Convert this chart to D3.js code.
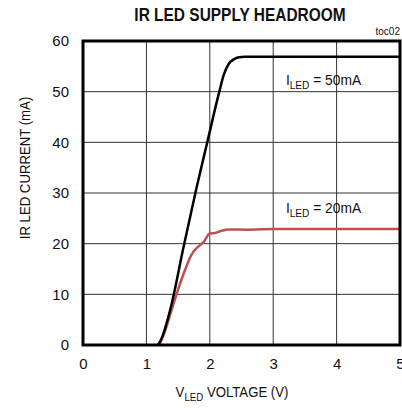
<!DOCTYPE html>
<html>
<head>
<meta charset="utf-8">
<script src="https://cdn.jsdelivr.net/npm/d3@7"></script>
<style>
  body { margin: 0; background: #fff; }
  text { font-family: "Liberation Sans Narrow", "Arial Narrow", "Liberation Sans", sans-serif; }
</style>
</head>
<body>
<div id="chart-container"></div>
<script>
// curve data (V, mA)
const voltage50 = [1.18, 1.22, 1.27, 1.33, 1.40, 1.58, 1.79, 1.96, 2.15, 2.22, 2.30, 2.38, 2.46, 2.55, 3.0, 4.0, 5.0];
const current50 = [0, 0.8, 2.3, 4.8, 8.2, 19, 31, 40, 50, 53.3, 55.5, 56.4, 56.8, 56.9, 56.9, 56.9, 56.9];
const voltage20 = [1.20, 1.24, 1.29, 1.38, 1.48, 1.60, 1.71, 1.79, 1.90, 2.00, 2.08, 2.18, 2.29, 2.60, 3.0, 4.0, 5.0];
const current20 = [0, 1.0, 2.6, 6.2, 10.2, 14.5, 17.8, 19.1, 20.3, 22.0, 22.1, 22.5, 22.8, 22.75, 22.9, 22.9, 22.9];
const xTicks = [0, 1, 2, 3, 4, 5];
const yTicks = [0, 10, 20, 30, 40, 50, 60];

const margin = { top: 41, right: 2, bottom: 63, left: 83 };
const W = 402, H = 408;
const width = W - margin.left - margin.right;
const height = H - margin.top - margin.bottom;

const svg = d3.select("#chart-container")
  .append("svg")
    .attr("width", W)
    .attr("height", H);

const g = svg.append("g")
  .attr("transform", `translate(${margin.left},${margin.top})`);

const x = d3.scaleLinear().domain([0, 5]).range([0, width]);
const y = d3.scaleLinear().domain([0, 60]).range([height, 0]);

// grid
g.selectAll(".vgrid")
  .data(xTicks.slice(1, -1))
  .join("line")
  .attr("x1", d => x(d)).attr("x2", d => x(d))
  .attr("y1", 0).attr("y2", height)
  .attr("stroke", "#333").attr("stroke-width", 1);

g.selectAll(".hgrid")
  .data(yTicks.slice(1, -1))
  .join("line")
  .attr("x1", 0).attr("x2", width)
  .attr("y1", d => y(d)).attr("y2", d => y(d))
  .attr("stroke", "#333").attr("stroke-width", 1);

// tick labels via d3 axes, lines hidden
const xAxis = g.append("g")
  .attr("transform", `translate(0,${height})`)
  .call(d3.axisBottom(x).tickValues(xTicks).tickFormat(d3.format("d")).tickSize(0).tickPadding(13));
xAxis.select(".domain").remove();
xAxis.selectAll(".tick text")
  .style("font-size", "15px").attr("fill", "#111")
  .attr("font-family", "Liberation Sans Narrow, Arial Narrow, sans-serif");

const yAxis = g.append("g")
  .call(d3.axisLeft(y).tickValues(yTicks).tickFormat(d3.format("d")).tickSize(0).tickPadding(14));
yAxis.select(".domain").remove();
yAxis.selectAll(".tick text")
  .style("font-size", "15px").attr("fill", "#111")
  .attr("font-family", "Liberation Sans Narrow, Arial Narrow, sans-serif");

// curves
const line = d3.line()
  .x(d => x(d[0]))
  .y(d => y(d[1]))
  .curve(d3.curveMonotoneX);

g.append("path")
  .datum(voltage20.map((v, i) => [v, current20[i]]))
  .attr("fill", "none")
  .attr("stroke", "#c0504d")
  .attr("stroke-width", 2.5)
  .attr("d", line);

g.append("path")
  .datum(voltage50.map((v, i) => [v, current50[i]]))
  .attr("fill", "none")
  .attr("stroke", "#000")
  .attr("stroke-width", 2.5)
  .attr("d", line);

// frame
g.append("rect")
  .attr("x", 0).attr("y", 0)
  .attr("width", width).attr("height", height)
  .attr("fill", "none")
  .attr("stroke", "#000")
  .attr("stroke-width", 3);

// curve labels
function iledLabel(xv, yv, txt) {
  const t = g.append("text")
    .attr("transform", `translate(${x(xv)},${y(yv)}) scale(0.92,1)`)
    .style("font-size", "15px").attr("fill", "#111");
  t.append("tspan").text("I");
  t.append("tspan").attr("dy", 4).style("font-size", "11px").text("LED");
  t.append("tspan").attr("dy", -4).text(" = " + txt);
}
iledLabel(3.2, 51.4, "50mA");
iledLabel(3.2, 26.0, "20mA");

// title
svg.append("text")
  .attr("transform", "translate(240,21) scale(0.86,1)")
  .attr("text-anchor", "middle")
  .style("font-size", "18px")
  .style("font-weight", "bold")
  .attr("fill", "#111")
  .text("IR LED SUPPLY HEADROOM");

svg.append("text")
  .attr("x", 400).attr("y", 35)
  .attr("text-anchor", "end")
  .style("font-size", "10px")
  .attr("fill", "#111")
  .text("toc02");

// y label
svg.append("text")
  .attr("transform", "translate(30,168) rotate(-90) scale(0.88,1)")
  .attr("text-anchor", "middle")
  .style("font-size", "15px")
  .attr("fill", "#111")
  .text("IR LED CURRENT (mA)");

// x label
const xl = svg.append("text")
  .attr("transform", "translate(232,397) scale(0.88,1)")
  .attr("text-anchor", "middle")
  .style("font-size", "15px")
  .attr("fill", "#111");
xl.append("tspan").text("V");
xl.append("tspan").attr("dy", 4).style("font-size", "11px").text("LED");
xl.append("tspan").attr("dy", -4).text(" VOLTAGE (V)");
</script>
</body>
</html>
